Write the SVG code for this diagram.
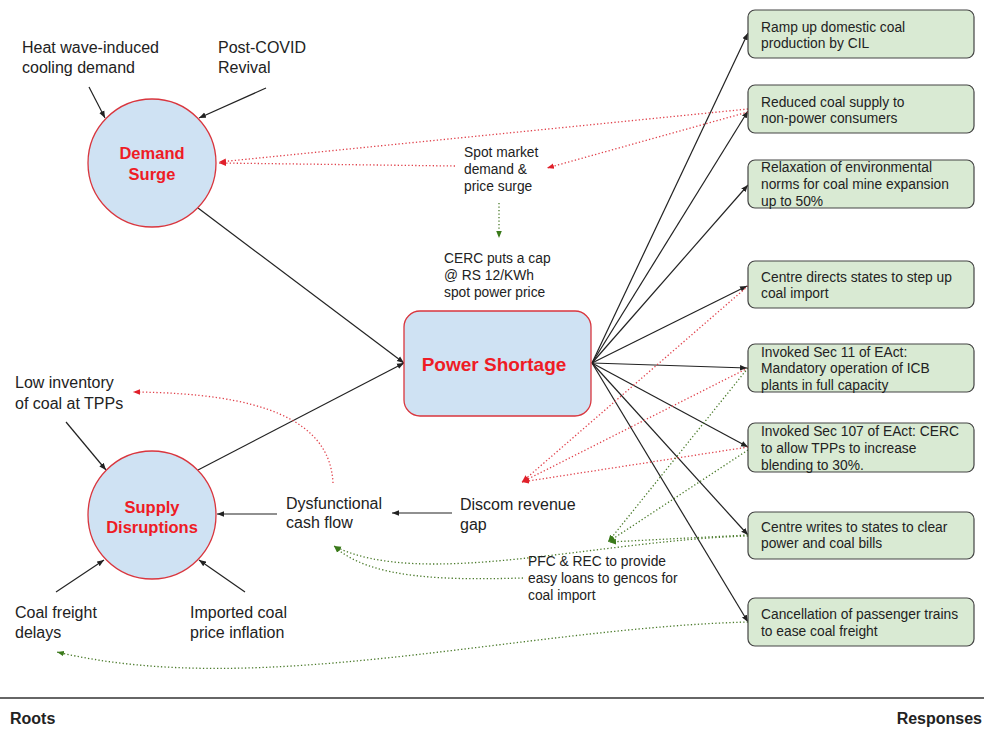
<svg xmlns="http://www.w3.org/2000/svg" width="984" height="729" viewBox="0 0 984 729">
<style>
text{font-family:"Liberation Sans",Arial,sans-serif;fill:#222}
.t16{font-size:16px}
.t14{font-size:13.8px}
.hub{font-weight:bold;fill:#ee1c25;font-size:16.5px;text-anchor:middle}
.circ{fill:#cfe2f3;stroke:#d9363e;stroke-width:1.3}
.resp{fill:#d9ead3;stroke:#444;stroke-width:1.2}
.solid{stroke:#222;stroke-width:1.2;fill:none;marker-end:url(#ab)}
.red{stroke:#e0404a;stroke-width:1.3;stroke-dasharray:1.3 2.2;fill:none;marker-end:url(#ar)}
.grn{stroke:#4a7a2a;stroke-width:1.3;stroke-dasharray:1.3 2.2;fill:none;marker-end:url(#ag)}
.foot{font-weight:bold;font-size:16px}
</style>
<defs>
<marker id="ab" viewBox="0 0 10 10" refX="10" refY="5" markerWidth="7" markerHeight="7" markerUnits="userSpaceOnUse" orient="auto"><path d="M0,1 L10,5 L0,9 z" fill="#222"/></marker>
<marker id="ar" viewBox="0 0 10 10" refX="10" refY="5" markerWidth="7" markerHeight="7" markerUnits="userSpaceOnUse" orient="auto"><path d="M0,1 L10,5 L0,9 z" fill="#e0202a"/></marker>
<marker id="ag" viewBox="0 0 10 10" refX="10" refY="5" markerWidth="7" markerHeight="7" markerUnits="userSpaceOnUse" orient="auto"><path d="M0,1 L10,5 L0,9 z" fill="#3a7a1a"/></marker>
</defs>
<rect width="984" height="729" fill="#fff"/>

<g id="connectors">
<line class="solid" x1="89" y1="87" x2="105" y2="118"/>
<line class="solid" x1="266" y1="88" x2="199" y2="118"/>
<line class="solid" x1="66" y1="422" x2="106" y2="470"/>
<line class="solid" x1="56" y1="592" x2="104" y2="560"/>
<line class="solid" x1="245" y1="592" x2="199" y2="560"/>
<line class="solid" x1="277" y1="514" x2="217" y2="514"/>
<line class="solid" x1="452" y1="513" x2="392" y2="513"/>
<line class="solid" x1="198" y1="208" x2="404" y2="363"/>
<line class="solid" x1="198" y1="470" x2="404" y2="363"/>
<line class="solid" x1="592" y1="363" x2="748" y2="33"/>
<line class="solid" x1="592" y1="363" x2="748" y2="111"/>
<line class="solid" x1="592" y1="363" x2="748" y2="185"/>
<line class="solid" x1="592" y1="363" x2="747" y2="286"/>
<line class="solid" x1="592" y1="363" x2="747" y2="368"/>
<line class="solid" x1="592" y1="363" x2="748" y2="447"/>
<line class="solid" x1="592" y1="363" x2="748" y2="535"/>
<line class="solid" x1="592" y1="363" x2="748" y2="622"/>
<line class="red" x1="748" y1="109" x2="219" y2="162"/>
<line class="red" x1="455" y1="166" x2="219" y2="163"/>
<line class="red" x1="748" y1="112" x2="547" y2="168"/>
<line class="red" x1="748" y1="286" x2="522" y2="482"/>
<line class="red" x1="748" y1="368" x2="522" y2="482"/>
<line class="red" x1="748" y1="447" x2="522" y2="482"/>
<path class="red" d="M333,483 C330,420 262,393 133,392"/>
<line class="grn" x1="499" y1="203" x2="499" y2="238"/>
<line class="grn" x1="748" y1="368" x2="608" y2="542"/>
<line class="grn" x1="748" y1="450" x2="608" y2="542"/>
<line class="grn" x1="748" y1="535" x2="609" y2="542"/>
<path class="grn" d="M748,536 C600,540 420,590 334,546"/>
<path class="grn" d="M523,578 C450,580 370,580 334,546"/>
<path class="grn" d="M748,622 C520,628 260,700 57,652"/>
</g>

<g id="heat-wave"><text class="t16" x="22" y="53">Heat wave-induced</text><text class="t16" x="22" y="73">cooling demand</text></g>
<g id="post-covid"><text class="t16" x="218" y="53">Post-COVID</text><text class="t16" x="218" y="73">Revival</text></g>
<g id="demand-surge"><circle class="circ" cx="152" cy="163" r="64"/><text class="hub" x="152" y="159">Demand</text><text class="hub" x="152" y="180">Surge</text></g>
<g id="spot-market"><text class="t14" x="464" y="157">Spot market</text><text class="t14" x="464" y="174">demand &amp;</text><text class="t14" x="464" y="191">price surge</text></g>
<g id="cerc-cap"><text class="t14" x="444" y="263">CERC puts a cap</text><text class="t14" x="444" y="280">@ RS 12/KWh</text><text class="t14" x="444" y="297">spot power price</text></g>
<g id="power-shortage"><rect x="404" y="311" width="187" height="105" rx="16" fill="#cfe2f3" stroke="#d9363e" stroke-width="1.3"/><text x="494" y="371" style="font-weight:bold;fill:#ee1c25;font-size:19px;text-anchor:middle">Power Shortage</text></g>
<g id="low-inventory"><text class="t16" x="15" y="388">Low inventory</text><text class="t16" x="15" y="409">of coal at TPPs</text></g>
<g id="supply-disruptions"><circle class="circ" cx="152" cy="515" r="64"/><text class="hub" x="152" y="513">Supply</text><text class="hub" x="152" y="533">Disruptions</text></g>
<g id="dysfunctional"><text class="t16" x="286" y="509">Dysfunctional</text><text class="t16" x="286" y="528">cash flow</text></g>
<g id="discom"><text class="t16" x="460" y="510">Discom revenue</text><text class="t16" x="460" y="530">gap</text></g>
<g id="pfc-rec"><text class="t14" x="528" y="566">PFC &amp; REC to provide</text><text class="t14" x="528" y="583">easy loans to gencos for</text><text class="t14" x="528" y="600">coal import</text></g>
<g id="coal-freight"><text class="t16" x="15" y="618">Coal freight</text><text class="t16" x="15" y="638">delays</text></g>
<g id="imported-coal"><text class="t16" x="190" y="618">Imported coal</text><text class="t16" x="190" y="638">price inflation</text></g>

<g id="r1"><rect class="resp" x="748" y="10" width="226" height="48" rx="7"/><text class="t14" x="761" y="32">Ramp up domestic coal</text><text class="t14" x="761" y="48">production by CIL</text></g>
<g id="r2"><rect class="resp" x="748" y="85" width="226" height="48" rx="7"/><text class="t14" x="761" y="107">Reduced coal supply to</text><text class="t14" x="761" y="123">non-power consumers</text></g>
<g id="r3"><rect class="resp" x="748" y="160" width="226" height="48" rx="7"/><text class="t14" x="761" y="172">Relaxation of environmental</text><text class="t14" x="761" y="189">norms for coal mine expansion</text><text class="t14" x="761" y="206">up to 50%</text></g>
<g id="r4"><rect class="resp" x="748" y="261" width="226" height="47" rx="7"/><text class="t14" x="761" y="282">Centre directs states to step up</text><text class="t14" x="761" y="298">coal import</text></g>
<g id="r5"><rect class="resp" x="748" y="344" width="226" height="48" rx="7"/><text class="t14" x="761" y="357">Invoked Sec 11 of EAct:</text><text class="t14" x="761" y="373">Mandatory operation of ICB</text><text class="t14" x="761" y="390">plants in full capacity</text></g>
<g id="r6"><rect class="resp" x="748" y="423" width="226" height="49" rx="7"/><text class="t14" x="761" y="436">Invoked Sec 107 of EAct: CERC</text><text class="t14" x="761" y="453">to allow TPPs to increase</text><text class="t14" x="761" y="470">blending to 30%.</text></g>
<g id="r7"><rect class="resp" x="748" y="512" width="226" height="47" rx="7"/><text class="t14" x="761" y="532">Centre writes to states to clear</text><text class="t14" x="761" y="548">power and coal bills</text></g>
<g id="r8"><rect class="resp" x="748" y="598" width="226" height="48" rx="7"/><text class="t14" x="761" y="619">Cancellation of passenger trains</text><text class="t14" x="761" y="636">to ease coal freight</text></g>

<g id="footer"><line x1="0" y1="698" x2="984" y2="698" stroke="#666" stroke-width="2"/><text class="foot" x="10" y="724">Roots</text><text class="foot" x="982" y="724" text-anchor="end">Responses</text></g>
</svg>
